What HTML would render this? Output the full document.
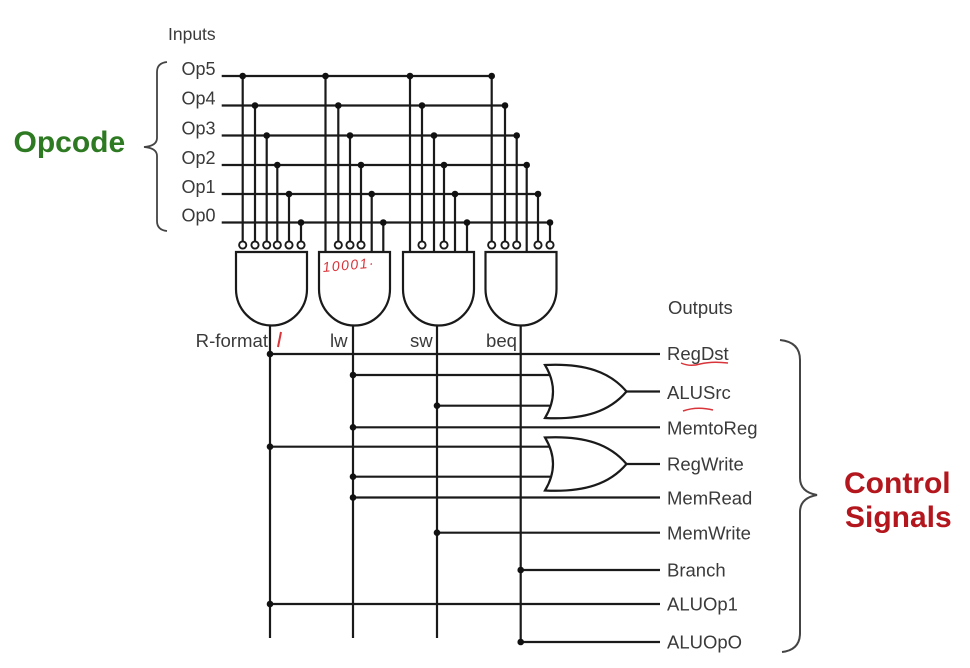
<!DOCTYPE html>
<html><head><meta charset="utf-8"><style>
html,body{margin:0;padding:0;background:#fff;}
svg{display:block;}
text{font-family:"Liberation Sans",Arial,sans-serif;}
</style></head><body>
<svg width="970" height="668" viewBox="0 0 970 668" xmlns="http://www.w3.org/2000/svg">
<rect width="970" height="668" fill="#fff"/>
<g stroke="#1a1a1a" stroke-width="2.2" fill="none" stroke-linecap="butt">
<!-- Op lines -->
<line x1="221.7" y1="76" x2="491.7" y2="76"/>
<line x1="221.7" y1="105.5" x2="505" y2="105.5"/>
<line x1="221.7" y1="135.5" x2="516.7" y2="135.5"/>
<line x1="221.7" y1="165" x2="526.7" y2="165"/>
<line x1="221.7" y1="194" x2="538" y2="194"/>
<line x1="221.7" y1="222.5" x2="550" y2="222.5"/>
<!-- R-format columns (all bubbles) -->
<line x1="242.7" y1="76" x2="242.7" y2="241.5"/>
<line x1="255" y1="105.5" x2="255" y2="241.5"/>
<line x1="266.7" y1="135.5" x2="266.7" y2="241.5"/>
<line x1="277.3" y1="165" x2="277.3" y2="241.5"/>
<line x1="289" y1="194" x2="289" y2="241.5"/>
<line x1="301" y1="222.5" x2="301" y2="241.5"/>
<!-- lw columns -->
<line x1="325.5" y1="76" x2="325.5" y2="252"/>
<line x1="338.3" y1="105.5" x2="338.3" y2="241.5"/>
<line x1="350" y1="135.5" x2="350" y2="241.5"/>
<line x1="361" y1="165" x2="361" y2="241.5"/>
<line x1="371.7" y1="194" x2="371.7" y2="252"/>
<line x1="383.3" y1="222.5" x2="383.3" y2="252"/>
<!-- sw columns -->
<line x1="410" y1="76" x2="410" y2="252"/>
<line x1="422" y1="105.5" x2="422" y2="241.5"/>
<line x1="434" y1="135.5" x2="434" y2="252"/>
<line x1="444" y1="165" x2="444" y2="241.5"/>
<line x1="455" y1="194" x2="455" y2="252"/>
<line x1="467" y1="222.5" x2="467" y2="252"/>
<!-- beq columns -->
<line x1="491.7" y1="76" x2="491.7" y2="241.5"/>
<line x1="505" y1="105.5" x2="505" y2="241.5"/>
<line x1="516.7" y1="135.5" x2="516.7" y2="241.5"/>
<line x1="526.7" y1="165" x2="526.7" y2="252"/>
<line x1="538" y1="194" x2="538" y2="241.5"/>
<line x1="550" y1="222.5" x2="550" y2="241.5"/>

<!-- output verticals -->
<line x1="270" y1="325" x2="270" y2="638"/>
<line x1="353" y1="325" x2="353" y2="638"/>
<line x1="437" y1="325" x2="437" y2="638"/>
<line x1="520.7" y1="325" x2="520.7" y2="642"/>

<!-- horizontal output lines -->
<line x1="270" y1="354" x2="660" y2="354"/>
<line x1="626.5" y1="391.5" x2="660" y2="391.5"/>
<line x1="353" y1="427.3" x2="660" y2="427.3"/>
<line x1="626.5" y1="464" x2="660" y2="464"/>
<line x1="353" y1="497.5" x2="660" y2="497.5"/>
<line x1="437" y1="532.7" x2="660" y2="532.7"/>
<line x1="520.7" y1="570" x2="660" y2="570"/>
<line x1="270" y1="604" x2="660" y2="604"/>
<line x1="520.7" y1="642" x2="660" y2="642"/>
<!-- OR inputs -->
<line x1="353" y1="375" x2="552" y2="375"/>
<line x1="437" y1="405.7" x2="552" y2="405.7"/>
<line x1="270" y1="446.7" x2="552" y2="446.7"/>
<line x1="353" y1="476.7" x2="552" y2="476.7"/>

<!-- AND gates -->
<path d="M236 252 L307 252 L307 289 A35.5 36.5 0 0 1 236 289 Z" fill="#fff"/>
<path d="M319 252 L390 252 L390 289 A35.5 36.5 0 0 1 319 289 Z" fill="#fff"/>
<path d="M403 252 L474 252 L474 289 A35.5 36.5 0 0 1 403 289 Z" fill="#fff"/>
<path d="M485.5 252 L556.5 252 L556.5 289 A35.5 36.5 0 0 1 485.5 289 Z" fill="#fff"/>

<!-- OR gates -->
<path d="M545 365 C585 363 610 372 626.5 391.5 C610 411 585 420 545 418 Q561 391.5 545 365 Z" fill="#fff"/>
<path d="M545 437.5 C585 435.5 610 444.5 626.5 464 C610 483.5 585 492.5 545 490.5 Q561 464 545 437.5 Z" fill="#fff"/>

<!-- bubbles -->
<g fill="#fff" stroke-width="1.9">
<circle cx="242.7" cy="245" r="3.6"/><circle cx="255" cy="245" r="3.6"/><circle cx="266.7" cy="245" r="3.6"/>
<circle cx="277.3" cy="245" r="3.6"/><circle cx="289" cy="245" r="3.6"/><circle cx="301" cy="245" r="3.6"/>
<circle cx="338.3" cy="245" r="3.6"/><circle cx="350" cy="245" r="3.6"/><circle cx="361" cy="245" r="3.6"/>
<circle cx="422" cy="245" r="3.6"/><circle cx="444" cy="245" r="3.6"/>
<circle cx="491.7" cy="245" r="3.6"/><circle cx="505" cy="245" r="3.6"/><circle cx="516.7" cy="245" r="3.6"/>
<circle cx="538" cy="245" r="3.6"/><circle cx="550" cy="245" r="3.6"/>
</g>

<!-- braces -->
<path d="M167 62 Q157 63 157 72 L157 138 Q157 146 144 147 Q157 148 157 156 L157 221 Q157 230 167 231" stroke="#444" stroke-width="1.8"/>
<path d="M780 340 Q800 342 800 360 L800 478 Q800 492 817 495 Q800 498 800 512 L800 633 Q800 650 782 652" stroke="#444" stroke-width="2"/>
</g>

<!-- dots -->
<g fill="#111">
<circle cx="242.7" cy="76" r="3.3"/><circle cx="255" cy="105.5" r="3.3"/><circle cx="266.7" cy="135.5" r="3.3"/>
<circle cx="277.3" cy="165" r="3.3"/><circle cx="289" cy="194" r="3.3"/><circle cx="301" cy="222.5" r="3.3"/>
<circle cx="325.5" cy="76" r="3.3"/><circle cx="338.3" cy="105.5" r="3.3"/><circle cx="350" cy="135.5" r="3.3"/>
<circle cx="361" cy="165" r="3.3"/><circle cx="371.7" cy="194" r="3.3"/><circle cx="383.3" cy="222.5" r="3.3"/>
<circle cx="410" cy="76" r="3.3"/><circle cx="422" cy="105.5" r="3.3"/><circle cx="434" cy="135.5" r="3.3"/>
<circle cx="444" cy="165" r="3.3"/><circle cx="455" cy="194" r="3.3"/><circle cx="467" cy="222.5" r="3.3"/>
<circle cx="491.7" cy="76" r="3.3"/><circle cx="505" cy="105.5" r="3.3"/><circle cx="516.7" cy="135.5" r="3.3"/>
<circle cx="526.7" cy="165" r="3.3"/><circle cx="538" cy="194" r="3.3"/><circle cx="550" cy="222.5" r="3.3"/>

<circle cx="270" cy="354" r="3.3"/><circle cx="270" cy="446.7" r="3.3"/><circle cx="270" cy="604" r="3.3"/>
<circle cx="353" cy="375" r="3.3"/><circle cx="353" cy="427.3" r="3.3"/><circle cx="353" cy="476.7" r="3.3"/><circle cx="353" cy="497.5" r="3.3"/>
<circle cx="437" cy="405.7" r="3.3"/><circle cx="437" cy="532.7" r="3.3"/>
<circle cx="520.7" cy="570" r="3.3"/><circle cx="520.7" cy="642" r="3.3"/>
</g>

<!-- labels -->
<g fill="#3a3a3a" font-size="17.5">
<text x="168" y="40">Inputs</text>
<text x="181.5" y="75" font-size="18">Op5</text>
<text x="181.5" y="104.5" font-size="18">Op4</text>
<text x="181.5" y="134.5" font-size="18">Op3</text>
<text x="181.5" y="164" font-size="18">Op2</text>
<text x="181.5" y="193" font-size="18">Op1</text>
<text x="181.5" y="221.5" font-size="18">Op0</text>
<text x="268" y="347" text-anchor="end" font-size="18.6">R-format</text>
<text x="330" y="347" font-size="18.6">lw</text>
<text x="410" y="347" font-size="18.6">sw</text>
<text x="486" y="347" font-size="18.6">beq</text>
<text x="668" y="314" font-size="18.5">Outputs</text>
<text x="667" y="360" font-size="18.5">RegDst</text>
<text x="667" y="399" font-size="18.5">ALUSrc</text>
<text x="667" y="434.5" font-size="18.5">MemtoReg</text>
<text x="667" y="470.5" font-size="18.5">RegWrite</text>
<text x="667" y="504.5" font-size="18.5">MemRead</text>
<text x="667" y="539.5" font-size="18.5">MemWrite</text>
<text x="667" y="576.5" font-size="18.5">Branch</text>
<text x="667" y="610.5" font-size="18.5">ALUOp1</text>
<text x="667" y="648.5" font-size="18.5">ALUOpO</text>
</g>

<text x="13.5" y="152" font-size="30" font-weight="bold" fill="#2e7a22">Opcode</text>
<text x="844" y="493" font-size="30" font-weight="bold" fill="#b3161d">Control</text>
<text x="845" y="527" font-size="30" font-weight="bold" fill="#b3161d">Signals</text>

<!-- red annotations -->
<path d="M281 332 L278 347" stroke="#d8343a" stroke-width="2" fill="none"/>
<text x="323" y="272" font-size="14" font-style="italic" fill="#d8343a" letter-spacing="1.5" transform="rotate(-5 323 272)">10001·</text>
<path d="M681 363 Q690 367 700 364 Q712 361 728 363" stroke="#d8343a" stroke-width="1.5" fill="none"/>
<path d="M683 411 Q697 406 713 410" stroke="#d8343a" stroke-width="1.5" fill="none"/>
</svg>
</body></html>
